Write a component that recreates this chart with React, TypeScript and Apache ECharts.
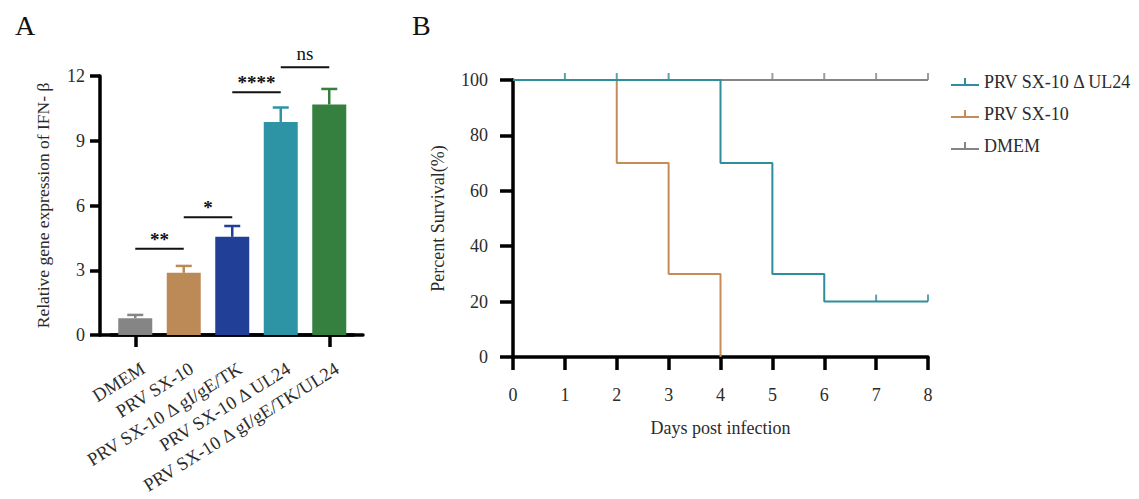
import { useEffect, useRef } from "react";
import * as echarts from "echarts";

// ---------- Panel A data ----------
const groups = [
  "DMEM",
  "PRV SX-10",
  "PRV SX-10 Δ gI/gE/TK",
  "PRV SX-10 Δ UL24",
  "PRV SX-10 Δ gI/gE/TK/UL24",
];
const means = [0.78, 2.88, 4.55, 9.87, 10.68];
const errUpper = [0.93, 3.2, 5.05, 10.54, 11.4];
const barColors = ["#858585", "#bb8a57", "#223f98", "#2c94a5", "#35803f"];
// [from group, to group, y level, label]
const sigPairs: [number, number, number, string][] = [
  [0, 1, 4.0, "**"],
  [1, 2, 5.45, "*"],
  [2, 3, 11.25, "****"],
  [3, 4, 12.4, "ns"],
];

// ---------- Panel B data ----------
const ul24Name = "PRV SX-10 Δ UL24";
const sx10Name = "PRV SX-10";
const dmemName = "DMEM";
const ul24Curve = [[0, 100], [4, 70], [5, 30], [6, 20], [8, 20]];
const sx10Curve = [[0, 100], [2, 70], [3, 30], [4, 0]];
const dmemCurve = [[0, 100], [8, 100]];
const ul24Censored = [[1, 100], [2, 100], [3, 100], [7, 20], [8, 20]];
const dmemCensored = [[5, 100], [6, 100], [7, 100], [8, 100]];
const ul24Color = "#2e8e9c";
const sx10Color = "#c58c58";
const dmemColor = "#858585";

const FONT = "Liberation Serif";
const TXT = "#2b2b2b";

export default function App() {
  const ref = useRef<HTMLDivElement>(null);
  useEffect(() => {
    if (!ref.current) return;
    const chart = echarts.init(ref.current, null, { renderer: "svg" });
    const tickPath = "path://M0,0 L2,0 L2,10 L0,10 Z";
    const option: any = {
      animation: false,
      backgroundColor: "#fff",
      textStyle: { fontFamily: FONT },
      title: [
        { text: "A", left: 10, top: 6, textStyle: { fontFamily: FONT, fontSize: 28, fontWeight: "normal", color: "#111" } },
        { text: "B", left: 407, top: 6, textStyle: { fontFamily: FONT, fontSize: 28, fontWeight: "normal", color: "#111" } },
      ],
      grid: [
        { left: 111, top: 76, width: 242.5, height: 259 },
        { left: 100, top: 76, width: 263, height: 259 },
        { left: 513, top: 80, width: 415, height: 277 },
      ],
      legend: {
        data: [ul24Name, sx10Name, dmemName],
        orient: "vertical",
        left: 946,
        top: 68,
        itemWidth: 28,
        itemHeight: 8,
        itemGap: 14,
        icon: "path://M0,6 L28,6 L28,8 L0,8 Z M13,0 L15,0 L15,6 L13,6 Z",
        textStyle: { fontFamily: FONT, fontSize: 18, color: TXT },
      },
      xAxis: [
        {
          gridIndex: 0,
          type: "category",
          data: groups,
          axisLine: { show: true, lineStyle: { color: "#000", width: 3.5 } },
          axisTick: { show: true, alignWithLabel: true, length: 12, lineStyle: { color: "#000", width: 3.5 } },
          axisLabel: { show: false },
        },
        {
          gridIndex: 1,
          type: "value",
          min: 0,
          max: 1,
          axisLine: { show: true, lineStyle: { color: "#000", width: 3.5 } },
          axisTick: { show: false },
          axisLabel: { show: false },
          splitLine: { show: false },
        },
        {
          gridIndex: 2,
          type: "value",
          min: 0,
          max: 8,
          interval: 1,
          name: "Days post infection",
          nameLocation: "middle",
          nameGap: 62,
          nameTextStyle: { fontFamily: FONT, fontSize: 18, color: TXT },
          axisLine: { show: true, lineStyle: { color: "#000", width: 3.5 } },
          axisTick: { show: true, length: 13, lineStyle: { color: "#000", width: 3.5 } },
          axisLabel: { margin: 29, fontFamily: FONT, fontSize: 18, color: TXT },
          splitLine: { show: false },
        },
      ],
      yAxis: [
        {
          gridIndex: 0,
          type: "value",
          min: 0,
          max: 12,
          interval: 3,
          offset: 11,
          name: "Relative gene expression of IFN- β",
          nameLocation: "middle",
          nameGap: 48,
          nameTextStyle: { fontFamily: FONT, fontSize: 17.5, color: TXT },
          axisLine: { show: true, lineStyle: { color: "#000", width: 3.5 } },
          axisTick: { show: true, length: 10, lineStyle: { color: "#000", width: 3.5 } },
          axisLabel: { margin: 15, fontFamily: FONT, fontSize: 18, color: TXT },
          splitLine: { show: false },
        },
        {
          gridIndex: 1,
          type: "value",
          show: false,
          min: 0,
          max: 1,
        },
        {
          gridIndex: 2,
          type: "value",
          min: 0,
          max: 100,
          interval: 20,
          name: "Percent Survival(%)",
          nameLocation: "middle",
          nameGap: 66,
          nameTextStyle: { fontFamily: FONT, fontSize: 18, color: TXT },
          axisLine: { show: true, lineStyle: { color: "#000", width: 3.5 } },
          axisTick: { show: true, length: 13, lineStyle: { color: "#000", width: 3.5 } },
          axisLabel: { margin: 25, fontFamily: FONT, fontSize: 18, color: TXT },
          splitLine: { show: false },
        },
      ],
      series: [
        {
          type: "bar",
          name: "expr",
          xAxisIndex: 0,
          yAxisIndex: 0,
          barWidth: 34,
          data: means.map((v, i) => ({ value: v, itemStyle: { color: barColors[i] } })),
        },
        {
          type: "custom",
          name: "err",
          xAxisIndex: 0,
          yAxisIndex: 0,
          clip: false,
          data: means.map((m, i) => [i, m, errUpper[i]]),
          encode: { x: 0, y: [1, 2] },
          renderItem: (params: any, api: any) => {
            const i = api.value(0);
            const p0 = api.coord([i, api.value(1)]);
            const p1 = api.coord([i, api.value(2)]);
            const base = api.coord([i, 0]);
            const c = barColors[params.dataIndex];
            const st = { stroke: c, lineWidth: 2.5 };
            return {
              type: "group",
              children: [
                { type: "line", shape: { x1: p0[0], y1: p0[1], x2: p1[0], y2: p1[1] }, style: st },
                { type: "line", shape: { x1: p1[0] - 8, y1: p1[1], x2: p1[0] + 8, y2: p1[1] }, style: st },
                {
                  type: "text",
                  x: base[0] + 8,
                  y: base[1] + 32,
                  rotation: (32 * Math.PI) / 180,
                  style: {
                    text: groups[params.dataIndex],
                    fill: TXT,
                    fontFamily: FONT,
                    fontSize: 18.5,
                    align: "right",
                    verticalAlign: "middle",
                  },
                },
              ],
            };
          },
        },
        {
          type: "custom",
          name: "sig",
          xAxisIndex: 0,
          yAxisIndex: 0,
          clip: false,
          data: sigPairs,
          encode: { x: [0, 1], y: 2 },
          renderItem: (params: any, api: any) => {
            const p = sigPairs[params.dataIndex];
            const a = api.coord([p[0], p[2]]);
            const b = api.coord([p[1], p[2]]);
            const isNs = p[3] === "ns";
            return {
              type: "group",
              children: [
                { type: "line", shape: { x1: a[0], y1: a[1], x2: b[0], y2: b[1] }, style: { stroke: "#111", lineWidth: 2 } },
                {
                  type: "text",
                  x: (a[0] + b[0]) / 2,
                  y: a[1] - (isNs ? 4 : 0),
                  style: {
                    text: p[3],
                    fill: "#111",
                    fontFamily: FONT,
                    fontSize: isNs ? 19 : 19,
                    fontWeight: isNs ? "normal" : "bold",
                    align: "center",
                    verticalAlign: "bottom",
                  },
                },
              ],
            };
          },
        },
        {
          type: "line",
          name: dmemName,
          xAxisIndex: 2,
          yAxisIndex: 2,
          step: "end",
          showSymbol: false,
          color: dmemColor,
          lineStyle: { color: dmemColor, width: 2 },
          data: dmemCurve,
        },
        {
          type: "line",
          name: sx10Name,
          xAxisIndex: 2,
          yAxisIndex: 2,
          step: "end",
          showSymbol: false,
          color: sx10Color,
          lineStyle: { color: sx10Color, width: 2 },
          data: sx10Curve,
        },
        {
          type: "line",
          name: ul24Name,
          xAxisIndex: 2,
          yAxisIndex: 2,
          step: "end",
          showSymbol: false,
          color: ul24Color,
          lineStyle: { color: ul24Color, width: 2 },
          data: ul24Curve,
        },
        {
          type: "scatter",
          name: "dmem-censor",
          xAxisIndex: 2,
          yAxisIndex: 2,
          symbol: tickPath,
          symbolSize: [2, 7],
          symbolOffset: [0, -3.5],
          itemStyle: { color: dmemColor },
          data: dmemCensored,
        },
        {
          type: "scatter",
          name: "ul24-censor",
          xAxisIndex: 2,
          yAxisIndex: 2,
          symbol: tickPath,
          symbolSize: [2, 7],
          symbolOffset: [0, -3.5],
          itemStyle: { color: ul24Color },
          data: ul24Censored,
        },
      ],
    };
    chart.setOption(option);
    return () => chart.dispose();
  }, []);
  return (
    <div
      ref={ref}
      style={{ position: "fixed", left: 0, top: 0, width: 1139, height: 499, background: "#fff" }}
    />
  );
}
